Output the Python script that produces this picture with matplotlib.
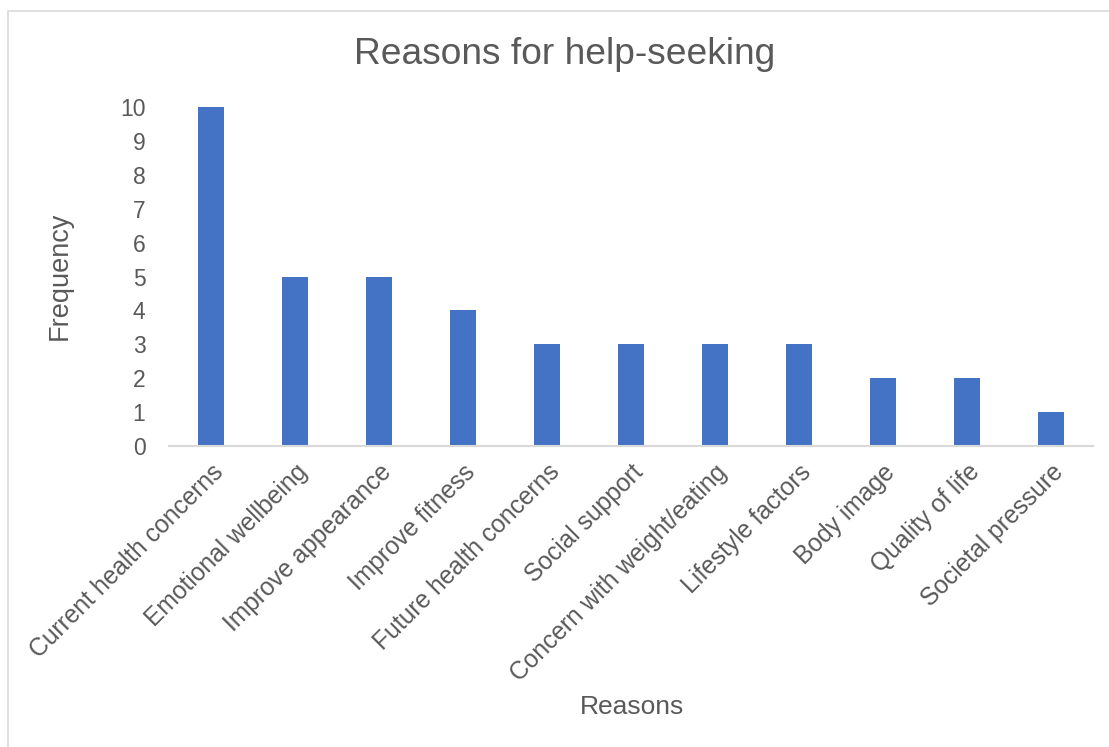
import matplotlib.pyplot as plt
from matplotlib.patches import Rectangle

# chart data
reasons = ["Current health concerns", "Emotional wellbeing", "Improve appearance",
           "Improve fitness", "Future health concerns", "Social support",
           "Concern with weight/eating", "Lifestyle factors", "Body image",
           "Quality of life", "Societal pressure"]
frequency = [10, 5, 5, 4, 3, 3, 3, 3, 2, 2, 1]
y_ticks = list(range(0, 11))

plt.rcParams["font.family"] = ["Liberation Sans", "DejaVu Sans"]
text_color = "#595959"

fig = plt.figure(figsize=(11.09, 7.47), dpi=100)
ax = fig.add_axes([169 / 1109, 1 - 446 / 747, 924 / 1109, (446 - 107) / 747])

# light frame around the chart area (only left/top visible in the original crop)
fig.patches.append(Rectangle((8 / 1109, -0.1), 1.2, 1 - 11 / 747 + 0.1,
                             transform=fig.transFigure, fill=False,
                             edgecolor="#d9d9d9", linewidth=1.2))

ax.bar(range(len(reasons)), frequency, width=0.31, color="#4472c4")
ax.set_xlim(-0.5, len(reasons) - 0.5)
ax.set_ylim(0, 10)
ax.set_yticks(y_ticks)
ax.set_xticks(range(len(reasons)))
ax.set_xticklabels(reasons, rotation=45, ha="right", rotation_mode="anchor",
                   fontsize=17.7, color=text_color)
ax.tick_params(axis="y", labelsize=16.5, labelcolor=text_color, length=0, pad=17)
ax.tick_params(axis="x", length=0, pad=10)

for s in ["top", "right", "left"]:
    ax.spines[s].set_visible(False)
ax.spines["bottom"].set_color("#d9d9d9")
ax.spines["bottom"].set_linewidth(1.5)

fig.text(565 / 1109, 1 - 55 / 747, "Reasons for help-seeking", fontsize=26.7,
         color=text_color, ha="center", va="center")
fig.text(60 / 1109, 1 - 276 / 747, "Frequency", fontsize=19.5, color=text_color,
         rotation=90, ha="center", va="center")
fig.text(632 / 1109, 1 - 707 / 747, "Reasons", fontsize=19, color=text_color,
         ha="center", va="center")

fig.savefig("out.png", dpi=100)
